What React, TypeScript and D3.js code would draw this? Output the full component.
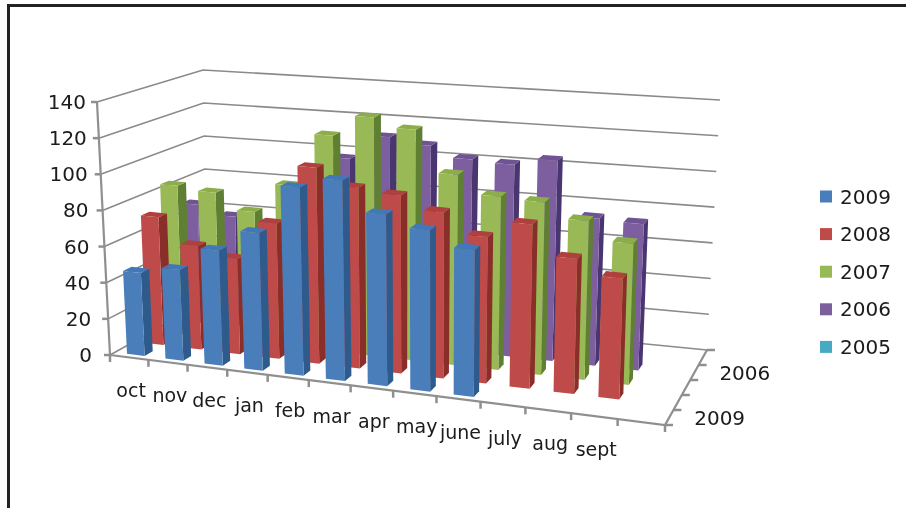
import React from "react";
import * as d3 from "d3";

const categories = ["oct", "nov", "dec", "jan", "feb", "mar", "apr", "may", "june", "july", "aug", "sept"];
const valueTicks = [0, 20, 40, 60, 80, 100, 120, 140];
const seriesNames = ["2009", "2008", "2007", "2006", "2005"];
const depthLabels = [{ row: 0, text: "2009" }, { row: 3, text: "2006" }];

const values2009 = [46, 50, 63, 75, 102, 108, 92, 86, 78, null, null, null];
const values2008 = [72, 58, 53, 75, 108, 99, 97, 90, 79, 88, 72, 64];
const values2007 = [85, 83, 74, 91, 121, 133, 128, 105, 95, 94, 86, 76];
const values2006 = [69, 64, 60, 70, 103, 117, 114, 108, 107, 111, 81, 80];
const values2005: (number | null)[] = [];
const allValues = [values2009, values2008, values2007, values2006, values2005];

const frontColors = ["#4a7ebb", "#be4b48", "#98b954", "#7d5fa0", "#46aac5"];
const sideColors = ["#2d5a8c", "#8a2f2c", "#5f7f33", "#4a3570", "#2a7f96"];
const topColors = ["#4278b8", "#b0403d", "#8cae4a", "#6f5292", "#3f9ab5"];

const W = 906, H = 508;
const nSlots = 13, nRows = 5, maxV = 140;

// corners of the plot box, as [x, y]
const fbl = [110, 355], ftl = [97, 102];
const fbr = [665, 425], ftr = [674, 153];
const bbl = [207, 301], btl = [203, 70];
const bbr = [707, 350], btr = [720, 100];

const lerp = (a: number[], b: number[], t: number) => [a[0] + (b[0] - a[0]) * t, a[1] + (b[1] - a[1]) * t];
const uScale = d3.scaleLinear().domain([0, nSlots]).range([0, 1]);
const wScale = d3.scaleLinear().domain([0, nRows]).range([0, 1]);
const vScale = d3.scaleLinear().domain([0, maxV]).range([0, 1]);
const K = 1.12;
const persp = (t: number) => t / (t + K * (1 - t));

function project(u: number, row: number, v: number): [number, number] {
  const tu = persp(uScale(u)), tw = wScale(row), tv = vScale(v);
  const bottom = lerp(lerp(fbl, fbr, tu), lerp(bbl, bbr, tu), tw);
  const top = lerp(lerp(ftl, ftr, tu), lerp(btl, btr, tu), tw);
  const p = lerp(bottom, top, tv);
  return [p[0], p[1]];
}

const pts = (list: [number, number][]) => list.map((p) => p.join(",")).join(" ");
const line = d3.line();

const BAR_U0 = 0.32, BAR_U1 = 0.78, BAR_W0 = 0.25, BAR_W1 = 0.68;
const axisColor = "#8f8f8f", gridColor = "#8a8a8a", textColor = "#1a1a1a";
const font = "'DejaVu Sans', sans-serif";
const labelRight = d3.scaleLinear().domain([0, maxV]).range([92, 86]);

export default function App() {
  const bars: React.ReactNode[] = [];
  for (let r = nRows - 1; r >= 0; r--) {
    categories.forEach((_, i) => {
      const v = allValues[r][i];
      if (v == null) return;
      const u0 = i + BAR_U0, u1 = i + BAR_U1, w0 = r + BAR_W0, w1 = r + BAR_W1;
      bars.push(
        <g key={`${r}-${i}`}>
          <polygon points={pts([project(u1, w0, 0), project(u1, w1, 0), project(u1, w1, v), project(u1, w0, v)])} fill={sideColors[r]} />
          <polygon points={pts([project(u0, w0, v), project(u1, w0, v), project(u1, w1, v), project(u0, w1, v)])} fill={topColors[r]} />
          <polygon points={pts([project(u0, w0, 0), project(u1, w0, 0), project(u1, w0, v), project(u0, w0, v)])} fill={frontColors[r]} />
        </g>
      );
    });
  }
  return (
    <svg width={W} height={H} viewBox={`0 0 ${W} ${H}`} style={{ position: "absolute", left: 0, top: 0, background: "#fff" }}>
      <defs>
        <filter id="soft" x="-2%" y="-2%" width="104%" height="104%">
          <feGaussianBlur stdDeviation="0.45" />
        </filter>
      </defs>
      <path d="M8.5,508 V5.5 H906" fill="none" stroke="#222" strokeWidth={3} />
      <g filter="url(#soft)">
        {valueTicks.map((t) => (
          <path key={t} d={line([project(0, 0, t), project(0, nRows, t), project(nSlots, nRows, t)]) ?? ""} fill="none" stroke={gridColor} strokeWidth={1.6} />
        ))}
        <path d={line([project(0, 0, 0), project(0, 0, maxV)]) ?? ""} stroke={axisColor} strokeWidth={2.2} fill="none" />
        <path d={line([project(0, 0, 0), project(nSlots, 0, 0), project(nSlots, nRows, 0)]) ?? ""} stroke={axisColor} strokeWidth={2.2} fill="none" />
        {valueTicks.map((t) => {
          const [x, y] = project(0, 0, t);
          return (
            <g key={t}>
              <line x1={x - 6} x2={x} y1={y} y2={y} stroke={axisColor} strokeWidth={2.5} />
              <text x={labelRight(t)} y={y + 7} textAnchor="end" fontFamily={font} fontSize={20} fill={textColor}>{t}</text>
            </g>
          );
        })}
        {d3.range(nSlots + 1).map((i) => {
          const [x, y] = project(i, 0, 0);
          return <line key={i} x1={x} x2={x} y1={y} y2={y + 7} stroke={axisColor} strokeWidth={2.5} />;
        })}
        {d3.range(nRows + 1).map((r) => {
          const [x, y] = project(nSlots, r, 0);
          return <line key={r} x1={x} x2={x + 8} y1={y} y2={y} stroke={axisColor} strokeWidth={2.5} />;
        })}
        {bars}
        {categories.map((c, i) => {
          const [x, y] = project(i + 0.5, 0, 0);
          return <text key={c} x={x + 2} y={y + 40} textAnchor="middle" fontFamily={font} fontSize={19} fill={textColor}>{c}</text>;
        })}
        {depthLabels.map((d) => {
          const [x, y] = project(nSlots, d.row + 0.5, 0);
          return <text key={d.text} x={x + 25} y={y + 7} fontFamily={font} fontSize={20} fill={textColor}>{d.text}</text>;
        })}
        {seriesNames.map((s, i) => {
          const y = 196.5 + i * 37.6;
          return (
            <g key={s}>
              <rect x={820} y={y - 6} width={12} height={12} fill={frontColors[i]} />
              <text x={840} y={y + 7} fontFamily={font} fontSize={20} fill={textColor}>{s}</text>
            </g>
          );
        })}
      </g>
    </svg>
  );
}
